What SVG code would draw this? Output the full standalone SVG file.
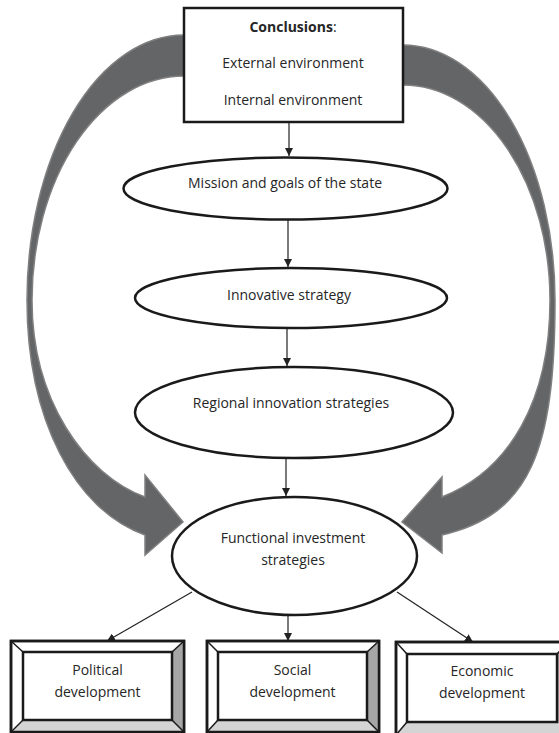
<svg xmlns="http://www.w3.org/2000/svg" width="559" height="733" viewBox="0 0 559 733">
<style>
.t{font-family:"Open Sans","Liberation Sans",sans-serif;font-size:14px;fill:#262626;text-anchor:middle}
.b{font-weight:bold}
.el{fill:#fff;stroke:#1a1a1a;stroke-width:2.5}
.big{fill:#646567;stroke:#808080;stroke-width:1.5;stroke-linejoin:miter}
.ln{stroke:#222;stroke-width:1.2;fill:none}
.outer{fill:#fff;stroke:#1a1a1a;stroke-width:2.5}
.inner{fill:#fff;stroke:#1a1a1a;stroke-width:2.5}
.dg{stroke:#1a1a1a;stroke-width:1.5}
</style>
<defs>
<marker id="ah" viewBox="0 0 10 10" refX="10" refY="5" markerWidth="8" markerHeight="8" markerUnits="userSpaceOnUse" orient="auto">
<path d="M0,0 L10,5 L0,10 Z" fill="#222"/>
</marker>
</defs>
<g id="curved-arrows">
<path class="big" d="M184,35 A157,265 0 0 0 27,300 C27,420 75,510 145,535 L145,555 L183,522 L145,475 L145,497 C85,475 32,400 32,300 A152,224 0 0 1 184,76 Z"/>
<path class="big" d="M403,45 A152,255 0 0 1 555,300 C555,450 530,515 442,535 L442,553 L402,522 L442,477 L442,497 C510,470 550,400 550,300 A147,215 0 0 0 403,85 Z"/>
</g>
<g id="connectors">
<line class="ln" x1="289" y1="122" x2="289" y2="156" marker-end="url(#ah)"/>
<line class="ln" x1="288" y1="220" x2="288" y2="267" marker-end="url(#ah)"/>
<line class="ln" x1="287" y1="328" x2="287" y2="366" marker-end="url(#ah)"/>
<line class="ln" x1="286" y1="458" x2="286" y2="496" marker-end="url(#ah)"/>
<line class="ln" x1="192" y1="592" x2="107" y2="641" marker-end="url(#ah)"/>
<line class="ln" x1="288" y1="615" x2="288" y2="641" marker-end="url(#ah)"/>
<line class="ln" x1="397" y1="592" x2="473" y2="642" marker-end="url(#ah)"/>
</g>
<g id="conclusions">
<rect x="184" y="8" width="219" height="114" fill="#fff" stroke="#1a1a1a" stroke-width="2.5"/>
<text class="t" x="293" y="32"><tspan class="b">Conclusions</tspan>:</text>
<text class="t" x="293" y="68">External environment</text>
<text class="t" x="293" y="105">Internal environment</text>
</g>
<g id="mission">
<ellipse class="el" cx="285.5" cy="188.5" rx="162" ry="31"/>
<text class="t" x="285" y="188">Mission and goals of the state</text>
</g>
<g id="innovative">
<ellipse class="el" cx="291" cy="298" rx="156" ry="30"/>
<text class="t" x="289" y="300">Innovative strategy</text>
</g>
<g id="regional">
<ellipse class="el" cx="294" cy="412.5" rx="159" ry="45.5"/>
<text class="t" x="291" y="408">Regional innovation strategies</text>
</g>
<g id="functional">
<ellipse class="el" cx="294.5" cy="556" rx="122.5" ry="59"/>
<text class="t" x="293" y="543">Functional investment</text>
<text class="t" x="293" y="565">strategies</text>
</g>
<g id="political">
<rect class="outer" x="11" y="641" width="173" height="91"/>
<polygon points="172,652 184,641 184,732 172,720" fill="#a6a6a6"/>
<polygon points="23,720 172,720 184,732 11,732" fill="#d4d4d4"/>
<rect x="11" y="641" width="173" height="91" fill="none" stroke="#1a1a1a" stroke-width="2.5"/>
<line class="dg" x1="11" y1="641" x2="23" y2="652"/><line class="dg" x1="184" y1="641" x2="172" y2="652"/>
<line class="dg" x1="11" y1="732" x2="23" y2="720"/><line class="dg" x1="184" y1="732" x2="172" y2="720"/>
<rect class="inner" x="23" y="652" width="149" height="68"/>
<text class="t" x="97.5" y="675">Political</text>
<text class="t" x="97.5" y="697">development</text>
</g>
<g id="social">
<rect class="outer" x="207" y="641" width="172" height="91"/>
<polygon points="367,652 379,641 379,732 367,720" fill="#a6a6a6"/>
<polygon points="218,720 367,720 379,732 207,732" fill="#d4d4d4"/>
<rect x="207" y="641" width="172" height="91" fill="none" stroke="#1a1a1a" stroke-width="2.5"/>
<line class="dg" x1="207" y1="641" x2="218" y2="652"/><line class="dg" x1="379" y1="641" x2="367" y2="652"/>
<line class="dg" x1="207" y1="732" x2="218" y2="720"/><line class="dg" x1="379" y1="732" x2="367" y2="720"/>
<rect class="inner" x="218" y="652" width="149" height="68"/>
<text class="t" x="292.5" y="675">Social</text>
<text class="t" x="292.5" y="697">development</text>
</g>
<g id="economic">
<rect class="outer" x="396" y="642" width="172" height="93"/>
<polygon points="557,654 568,642 568,735 557,722" fill="#a6a6a6"/>
<polygon points="407,722 557,722 568,735 396,735" fill="#d4d4d4"/>
<rect x="396" y="642" width="172" height="93" fill="none" stroke="#1a1a1a" stroke-width="2.5"/>
<line class="dg" x1="396" y1="642" x2="407" y2="654"/><line class="dg" x1="568" y1="642" x2="557" y2="654"/>
<line class="dg" x1="396" y1="735" x2="407" y2="722"/>
<rect class="inner" x="407" y="654" width="150" height="68"/>
<text class="t" x="482" y="676">Economic</text>
<text class="t" x="482" y="698">development</text>
</g>
</svg>
